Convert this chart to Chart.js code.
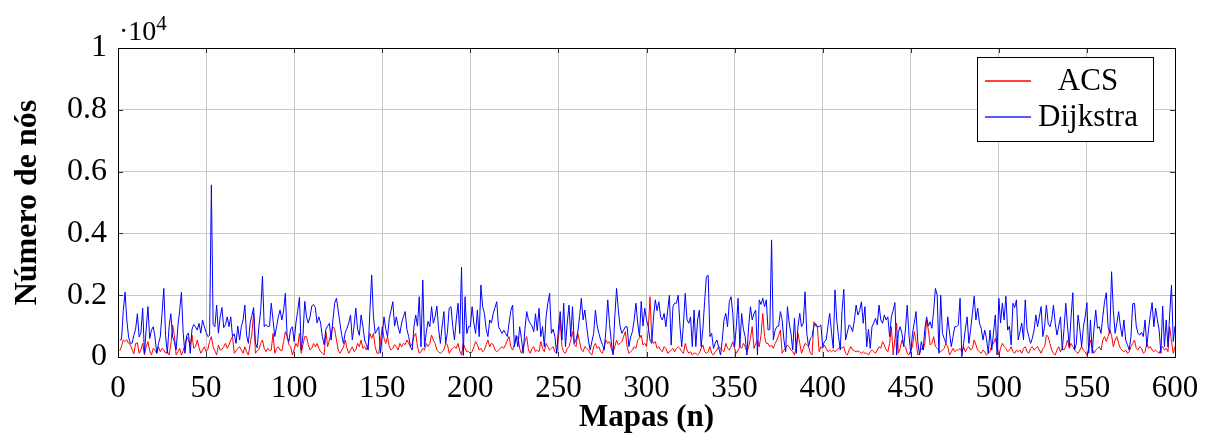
<!DOCTYPE html>
<html>
<head>
<meta charset="utf-8">
<script src="https://cdn.jsdelivr.net/npm/chart.js@4/dist/chart.umd.min.js"></script>
<style>
  body { margin: 0; background: #fff; }
  #wrap { width: 1212px; height: 439px; }
</style>
</head>
<body>
<div id="wrap"><canvas id="chart" width="1212" height="439"></canvas></div>
<script>
// number of nodes per map (x = map index 1..600)
const acs = [
  200,350,550,500,560,440,400,250,100,440,
  460,120,230,440,65,330,500,200,65,280,
  230,120,330,170,280,230,120,170,65,400,
  1040,700,65,170,280,65,200,400,660,550,
  400,710,280,330,550,300,120,225,330,170,
  250,500,660,330,200,65,390,225,250,330,
  440,280,400,550,660,120,200,280,330,225,
  120,330,170,65,400,760,1420,120,200,250,
  440,550,280,170,280,200,225,765,120,280,
  330,225,200,500,820,660,400,330,65,250,
  440,330,765,120,400,660,660,400,225,280,
  440,330,440,280,170,120,65,820,335,550,
  760,980,900,550,225,120,225,330,550,280,
  120,225,330,170,225,440,330,550,280,335,
  225,400,765,600,765,330,120,120,500,980,
  600,440,660,330,225,280,400,335,225,440,
  330,440,400,550,440,330,440,660,765,330,
  120,170,280,225,440,335,440,710,550,440,
  225,170,120,170,225,440,400,120,225,280,
  330,280,440,200,65,440,280,170,170,120,
  170,330,500,400,225,280,170,225,400,550,
  330,440,400,225,170,225,280,330,280,400,
  550,660,330,225,400,550,660,280,120,280,
  500,660,225,120,280,330,170,225,170,500,
  280,170,440,330,225,280,335,170,120,600,
  1200,335,170,120,280,335,550,820,400,335,
  765,500,225,170,335,280,225,120,65,330,
  440,280,335,170,120,330,550,440,500,280,
  120,330,550,400,440,500,660,820,330,120,
  170,225,335,280,550,600,710,390,440,335,
  880,1950,550,440,500,280,335,225,170,335,
  280,120,170,225,280,170,280,335,280,170,
  120,440,225,120,170,65,120,120,65,120,
  280,390,170,120,170,335,120,65,170,225,
  335,280,225,170,440,280,225,335,500,280,
  120,225,335,280,440,335,170,330,600,980,
  280,440,550,330,700,1410,660,440,440,330,
  390,280,440,550,700,870,120,225,280,390,
  335,225,170,65,330,765,440,120,280,440,
  400,335,120,65,1140,1000,980,170,335,280,
  390,280,170,225,170,225,170,225,280,335,
  280,335,120,65,225,335,225,200,170,200,
  170,120,170,120,120,65,170,225,170,120,
  225,335,280,500,390,225,170,440,980,65,
  600,1090,120,280,550,390,335,120,65,225,
  335,820,500,65,120,280,225,440,1200,870,
  390,440,660,335,280,225,170,225,280,440,
  335,65,170,280,170,225,225,280,170,335,
  170,280,335,225,280,550,390,225,170,120,
  225,170,65,120,170,390,440,600,335,65,
  280,440,335,280,170,225,335,170,120,225,
  170,225,120,280,335,170,120,280,335,225,
  280,335,225,120,280,335,710,660,440,225,
  120,65,225,335,170,280,225,335,550,280,
  440,335,225,170,120,225,335,225,170,65,
  280,550,280,120,225,280,335,225,550,660,
  500,660,870,700,335,550,660,440,280,225,
  170,225,120,170,335,440,550,280,225,335,
  280,120,170,440,280,335,225,170,225,170,
  120,280,335,225,280,170,980,500,120,335
];

const dijkstra = [
  550,560,1500,2100,1200,650,440,450,700,900,
  1400,650,780,1580,120,900,1630,600,870,980,
  650,120,440,650,1400,2220,700,120,980,1400,
  650,500,230,1000,1500,2100,770,120,700,780,
  120,900,1050,980,870,1090,770,1200,980,800,
  660,700,5570,1050,980,1680,770,1300,1600,950,
  1050,1300,980,1300,660,750,440,1000,550,980,
  1200,1680,700,440,1100,1350,1600,450,300,1000,
  1500,2620,980,1050,980,1000,1740,1200,660,980,
  1300,1520,1200,1500,2060,660,500,900,980,500,
  1100,1500,1930,230,700,1800,1300,1100,1300,1650,
  1700,1600,1100,1300,1100,660,400,900,1000,1090,
  550,1200,1740,1900,1500,1090,700,440,800,930,
  1100,1360,550,1000,1580,900,700,1360,1000,550,
  400,225,1500,2650,1300,760,870,980,120,700,
  1300,900,660,1250,1500,1790,1000,1300,980,760,
  1100,1300,1470,900,660,330,225,980,1360,1000,
  1950,330,2490,330,800,1150,980,1630,1090,1300,
  1650,900,440,1000,1470,440,800,1580,1630,1000,
  550,1200,1740,760,2900,50,1950,760,980,980,
  1630,1100,760,1520,660,2330,1630,1410,900,660,
  1200,1100,1410,1600,1790,980,870,760,870,760,
  660,1100,1500,1680,330,700,335,980,600,120,
  900,1470,1200,1090,1000,820,1400,850,1580,660,
  980,335,1300,1740,2060,765,900,660,120,900,
  1470,550,1740,335,1100,1680,660,1630,440,550,
  800,1300,1900,1200,1520,1000,550,225,500,765,
  1520,1000,765,550,400,225,900,1850,1090,500,
  65,1300,2220,1520,1000,765,870,980,980,335,
  650,820,1200,1740,1100,660,1800,1000,1580,1200,
  980,550,440,1300,1850,1500,1790,1300,1200,1410,
  980,1500,2000,385,1630,1740,1740,2000,1000,335,
  1090,2060,1200,1090,1300,335,1520,335,1200,1520,
  335,900,1800,2600,2650,660,765,280,450,550,
  300,65,550,1200,1410,980,1790,1950,1400,335,
  1000,1900,335,1410,900,660,65,1000,1630,1200,
  1400,1520,65,1850,1700,1900,1630,1850,870,900,
  3790,550,870,980,1000,1470,1200,550,170,1630,
  1100,765,225,1250,120,1000,1410,980,1090,2110,
  765,335,600,660,1000,1090,980,980,1040,335,
  500,550,1000,1410,800,280,2170,1200,660,225,
  1500,2190,550,800,1040,980,820,1200,1680,1360,
  1500,1790,1090,1630,335,900,280,980,1100,1250,
  1040,1680,1200,1090,1360,1200,1300,660,1300,1500,
  1760,65,800,980,765,335,900,1680,700,120,
  765,1100,1470,500,65,500,225,900,1300,1000,
  1140,930,1500,2220,2000,120,2000,765,600,440,
  1300,800,335,660,980,980,1040,1900,10,440,
  900,1300,440,900,1410,1970,1200,1580,1100,930,
  550,870,600,120,870,225,800,1360,65,1900,
  1100,1740,1200,1970,870,1000,390,1740,1600,1850,
  550,820,1100,550,1850,900,660,440,600,870,
  1360,980,1300,1630,660,1000,1680,1090,980,1200,
  1680,1090,710,1000,1300,225,900,1740,1000,335,
  1300,2080,225,440,1360,900,335,980,1300,1760,
  120,1200,120,900,1520,930,980,765,1300,1790,
  2080,980,765,2760,1500,765,1090,1470,1000,660,
  1200,550,400,225,660,1720,1740,1000,765,710,
  800,660,1200,335,900,1360,1760,980,1580,1200,
  870,120,1650,335,1200,335,1400,2330,500,1000
];

const xTicks = [0, 50, 100, 150, 200, 250, 300, 350, 400, 450, 500, 550, 600];
const yTicks = [0, 2000, 4000, 6000, 8000, 10000];
const seriesNames = ['ACS', 'Dijkstra'];
const seriesColors = ['#ff0000', '#0000ff'];
const legendSwatch = ['rgba(255,0,0,0.75)', 'rgba(0,0,255,0.65)'];

const serif = "'Liberation Serif', 'Times New Roman', serif";

function toPoints(arr) {
  return arr.map((v, i) => ({ x: i + 1, y: v }));
}

// frame, inner tick marks, legend box and the ·10^4 label (pgfplots look)
const pgfExtras = {
  id: 'pgfExtras',
  afterDatasetsDraw(chart) {
    const { ctx, chartArea: a, scales } = chart;
    ctx.save();
    ctx.strokeStyle = '#333';
    ctx.lineWidth = 1;
    ctx.beginPath();
    xTicks.forEach(t => {
      const x = Math.round(scales.x.getPixelForValue(t)) + 0.5;
      ctx.moveTo(x, a.bottom); ctx.lineTo(x, a.bottom - 5);
      ctx.moveTo(x, a.top); ctx.lineTo(x, a.top + 5);
    });
    yTicks.forEach(t => {
      const y = Math.round(scales.y.getPixelForValue(t)) + 0.5;
      ctx.moveTo(a.left, y); ctx.lineTo(a.left + 5, y);
      ctx.moveTo(a.right, y); ctx.lineTo(a.right - 5, y);
    });
    ctx.stroke();
    ctx.strokeStyle = '#000';
    ctx.strokeRect(Math.round(a.left) + 0.5, Math.round(a.top) + 0.5,
                   Math.round(a.right - a.left), Math.round(a.bottom - a.top));
    ctx.restore();
  },
  afterDraw(chart) {
    const { ctx, chartArea: a } = chart;
    ctx.save();
    // exponent label
    ctx.fillStyle = '#000';
    ctx.textBaseline = 'alphabetic';
    ctx.font = '28px ' + serif;
    ctx.fillText('\u00b710', a.left + 1, 40);
    const w = ctx.measureText('\u00b710').width;
    ctx.font = '21px ' + serif;
    ctx.fillText('4', a.left + 1 + w, 30);

    // legend
    const bx = 977, by = 57, bw = 176, bh = 84;
    ctx.fillStyle = '#fff';
    ctx.fillRect(bx, by, bw, bh);
    ctx.strokeStyle = '#000';
    ctx.lineWidth = 1;
    ctx.strokeRect(bx + 0.5, by + 0.5, bw, bh);
    const rows = [80, 116];
    ctx.font = '31px ' + serif;
    ctx.textAlign = 'center';
    ctx.textBaseline = 'middle';
    for (let i = 0; i < seriesNames.length; i++) {
      ctx.fillStyle = legendSwatch[i];
      ctx.fillRect(985, rows[i], 46, 2);
      ctx.fillStyle = '#000';
      ctx.fillText(seriesNames[i], 1088, rows[i] + 2);
    }
    ctx.restore();
  }
};

new Chart(document.getElementById('chart'), {
  type: 'line',
  data: {
    datasets: [
      {
        label: seriesNames[0],
        data: toPoints(acs),
        borderColor: seriesColors[0],
        borderWidth: 1,
        pointRadius: 0,
        tension: 0,
        order: 1
      },
      {
        label: seriesNames[1],
        data: toPoints(dijkstra),
        borderColor: seriesColors[1],
        borderWidth: 1,
        pointRadius: 0,
        tension: 0,
        order: 0
      }
    ]
  },
  options: {
    responsive: false,
    animation: false,
    events: [],
    layout: { padding: { top: 48, right: 37, left: 0, bottom: 0 } },
    plugins: {
      legend: { display: false },
      tooltip: { enabled: false }
    },
    scales: {
      x: {
        type: 'linear',
        min: 0,
        max: 600,
        afterFit: s => { s.height = 82; },
        afterBuildTicks: s => { s.ticks = xTicks.map(v => ({ value: v })); },
        grid: { color: '#c8c8c8', lineWidth: 1, drawTicks: false },
        border: { display: false },
        ticks: {
          autoSkip: false,
          maxRotation: 0,
          padding: 13,
          color: '#000',
          font: { family: serif, size: 31 }
        },
        title: {
          display: true,
          text: 'Mapas (n)',
          color: '#000',
          font: { family: serif, size: 31, weight: 'bold' },
          padding: { top: 0, bottom: 2 }
        }
      },
      y: {
        min: 0,
        max: 10000,
        afterFit: s => { s.width = 118; },
        afterBuildTicks: s => { s.ticks = yTicks.map(v => ({ value: v })); },
        grid: { color: '#c8c8c8', lineWidth: 1, drawTicks: false },
        border: { display: false },
        ticks: {
          padding: 11,
          color: '#000',
          font: { family: serif, size: 32 },
          callback: v => String(v / 10000)
        },
        title: {
          display: true,
          text: 'Número de nós',
          color: '#000',
          font: { family: serif, size: 32, weight: 'bold' },
          padding: { top: 9, bottom: 0 }
        }
      }
    }
  },
  plugins: [pgfExtras]
});
</script>
</body>
</html>
